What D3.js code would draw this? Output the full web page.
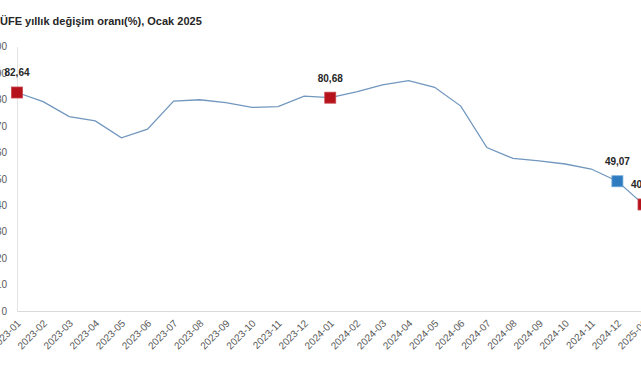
<!DOCTYPE html>
<html>
<head>
<meta charset="utf-8">
<script src="https://cdn.jsdelivr.net/npm/d3@7"></script>
<style>
  html, body { margin: 0; padding: 0; background: #fff; }
  svg { display: block; font-family: "Liberation Sans", Arial, sans-serif; }
</style>
</head>
<body>
<svg id="chart" width="641" height="380"></svg>
<script>
const title = "ÜFE yıllık değişim oranı(%), Ocak 2025";
const months = ["2023-01","2023-02","2023-03","2023-04","2023-05","2023-06","2023-07","2023-08","2023-09","2023-10","2023-11","2023-12",
                "2024-01","2024-02","2024-03","2024-04","2024-05","2024-06","2024-07","2024-08","2024-09","2024-10","2024-11","2024-12","2025-01"];
const values = [82.64, 79.2, 73.5, 71.9, 65.5, 68.8, 79.4, 79.9, 78.8, 77.0, 77.3, 81.3,
                80.68, 82.9, 85.5, 87.1, 84.6, 77.5, 61.8, 57.7, 56.8, 55.6, 53.7, 49.07, 40.29];
const yTicks = [0, 10, 20, 30, 40, 50, 60, 70, 80, 90, 100];
const highlighted = [
  {month: "2023-01", label: "82,64", kind: "red"},
  {month: "2024-01", label: "80,68", kind: "red"},
  {month: "2024-12", label: "49,07", kind: "blue"},
  {month: "2025-01", label: "40,29", kind: "red"}
];

const svg = d3.select("#chart");
const x = d3.scalePoint().domain(months).range([17, 643.5]);
const y = d3.scaleLinear().domain([0, 100]).range([311, 46.6]);
const byMonth = new Map(months.map((m, i) => [m, values[i]]));

// title
svg.append("text").attr("x", 0).attr("y", 25)
  .attr("font-size", 11).attr("font-weight", "bold").attr("fill", "#262626")
  .text(title);

// y axis
const yAxis = svg.append("g").attr("transform", "translate(17,0)")
  .call(d3.axisLeft(y).tickValues(yTicks).tickSize(0).tickPadding(10));
yAxis.select(".domain").attr("stroke", "#e3e3e3");
yAxis.selectAll("text").attr("font-size", 10).attr("fill", "#595959")
  .attr("font-family", "Liberation Sans, Arial, sans-serif");

// x axis
const xAxis = svg.append("g").attr("transform", "translate(0,311)")
  .call(d3.axisBottom(x).tickSize(0).tickPadding(0));
xAxis.select(".domain").attr("stroke", "#d9d9d9");
xAxis.selectAll("text")
  .attr("font-size", 10).attr("fill", "#595959")
  .attr("font-family", "Liberation Sans, Arial, sans-serif")
  .attr("text-anchor", "end")
  .attr("dy", null).attr("y", 0)
  .attr("transform", "translate(4,13) rotate(-45)");

// line
const line = d3.line().x((d, i) => x(months[i])).y(d => y(d));
svg.append("path").datum(values)
  .attr("d", line).attr("fill", "none")
  .attr("stroke", "#7197be").attr("stroke-width", 1.3);

// markers
const colors = {red: {fill: "#b5121b", stroke: "#c9474d"}, blue: {fill: "#2e7bbf", stroke: "#6aa6d8"}};
const ms = 11;
svg.selectAll("rect.mk").data(highlighted).enter().append("rect")
  .attr("class", "mk")
  .attr("x", d => x(d.month) - ms / 2).attr("y", d => y(byMonth.get(d.month)) - ms / 2)
  .attr("width", ms).attr("height", ms)
  .attr("fill", d => colors[d.kind].fill).attr("stroke", d => colors[d.kind].stroke).attr("stroke-width", 0.8);

svg.selectAll("text.lbl").data(highlighted).enter().append("text")
  .attr("class", "lbl")
  .attr("x", d => x(d.month)).attr("y", d => y(byMonth.get(d.month)) - 16)
  .attr("text-anchor", "middle").attr("font-size", 10).attr("font-weight", "bold").attr("fill", "#262626")
  .text(d => d.label);
</script>
</body>
</html>
